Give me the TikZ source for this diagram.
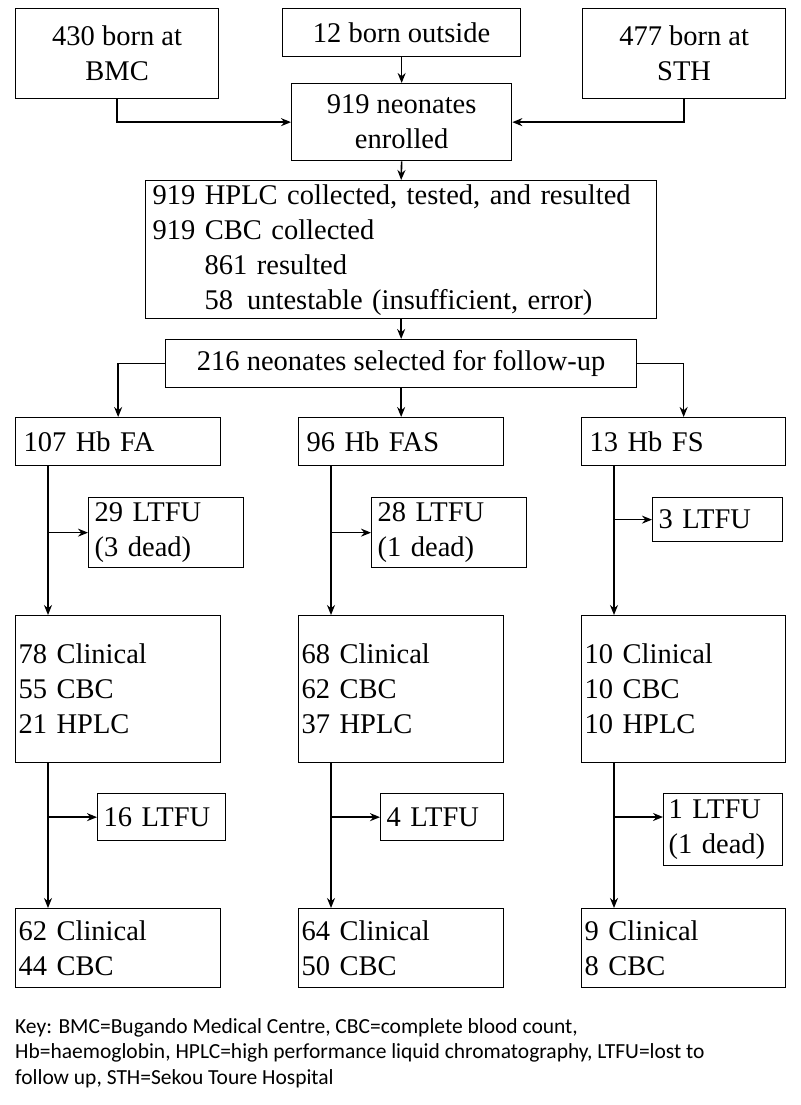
\documentclass[tikz,border=0pt]{standalone}
\usepackage{fontspec}
\setmainfont{Liberation Serif}
\newfontfamily\keyfont{Carlito}
\usetikzlibrary{arrows.meta}
\begin{document}
\begin{tikzpicture}[x=1pt,y=-1pt,
  bx/.style={draw,line width=1.3pt,anchor=north west,inner sep=0pt,font=\fontsize{28.5}{35}\selectfont},
  cb/.style={bx,align=center},
  lb/.style={bx,align=left},
  ar/.style={-{Stealth[length=10pt,width=8pt]},line width=1.6pt},
  ln/.style={line width=1.6pt}]
\useasboundingbox (0,0) rectangle (800,1105);
% top
\node[cb,minimum width=203,minimum height=90] (bmc) at (15,8) {430 born at\\BMC};
\node[cb,minimum width=238,minimum height=48] (out) at (282,8) {12 born outside};
\node[cb,minimum width=203,minimum height=90] (sth) at (582,8) {477 born at\\STH};
\node[cb,minimum width=220,minimum height=77] (enr) at (291,83) {919 neonates\\enrolled};
\node[lb,minimum width=511,minimum height=138,text width=497] (big) at (145,180) {919 HPLC collected, tested, and resulted\\919 CBC collected\\\hspace*{52pt}861 resulted\\\hspace*{52pt}58\hspace{14pt}untestable (insufficient, error)};
\node[cb,minimum width=471,minimum height=48] (sel) at (165,339) {216 neonates selected for follow-up};
% groups
\node[lb,minimum width=205,minimum height=48,text width=189] (fa) at (15,417) {107 Hb FA};
\node[lb,minimum width=205,minimum height=48,text width=189] (fas) at (298,417) {96 Hb FAS};
\node[lb,minimum width=204,minimum height=48,text width=188] (fs) at (581,417) {13 Hb FS};
\node[lb,minimum width=155,minimum height=70,text width=143] (la) at (88,497) {29 LTFU\\(3 dead)};
\node[lb,minimum width=155,minimum height=70,text width=143] (lb2) at (371,497) {28 LTFU\\(1 dead)};
\node[lb,minimum width=130,minimum height=44,text width=118] (lc) at (652,497) {3 LTFU};
\node[lb,minimum width=205,minimum height=147,text width=199] (ca) at (15,615) {78 Clinical\\55 CBC\\21 HPLC};
\node[lb,minimum width=205,minimum height=147,text width=199] (cb2) at (298,615) {68 Clinical\\62 CBC\\37 HPLC};
\node[lb,minimum width=204,minimum height=147,text width=198] (cc) at (581,615) {10 Clinical\\10 CBC\\10 HPLC};
\node[lb,minimum width=128,minimum height=47,text width=116] (ma) at (97,793) {16 LTFU};
\node[lb,minimum width=123,minimum height=47,text width=111] (mb) at (380,793) {4 LTFU};
\node[lb,minimum width=119,minimum height=72,text width=109] (mc) at (663,793) {1 LTFU\\(1 dead)};
\node[lb,minimum width=205,minimum height=79,text width=199] (fa2) at (15,908) {62 Clinical\\44 CBC};
\node[lb,minimum width=205,minimum height=79,text width=199] (fb2) at (298,908) {64 Clinical\\50 CBC};
\node[lb,minimum width=204,minimum height=79,text width=198] (fc2) at (581,908) {9 Clinical\\8 CBC};
% key
\node[anchor=north west,align=left,inner sep=0pt,font=\keyfont\fontsize{21.5}{25.5}\selectfont] (key) at (15,1018) {Key: BMC=Bugando Medical Centre, CBC=complete blood count,\\Hb=haemoglobin, HPLC=high performance liquid chromatography, LTFU=lost to\\follow up, STH=Sekou Toure Hospital};
% connectors
\draw[ar] (bmc.south) |- (enr.west);
\draw[ar] (sth.south) |- (enr.east);
\draw[ar] (out.south) -- (enr.north);
\draw[ar] (enr.south) -- (big.north);
\draw[ar] (big.south) -- (sel.north);
\draw[ar] (sel.west) -| (fa.north);
\draw[ar] (sel.east) -| (fs.north);
\draw[ar] (sel.south) -- (fas.north);
\coordinate (va) at (48,0); \coordinate (vb) at (331,0); \coordinate (vc) at (614,0);
\draw[ar] (fa.south -| va) -- (ca.north -| va);
\draw[ar] (fas.south -| vb) -- (cb2.north -| vb);
\draw[ar] (fs.south -| vc) -- (cc.north -| vc);
\draw[ar] (va |- la.west) -- (la.west);
\draw[ar] (vb |- lb2.west) -- (lb2.west);
\draw[ar] (vc |- lc.west) -- (lc.west);
\draw[ar] (ca.south -| va) -- (fa2.north -| va);
\draw[ar] (cb2.south -| vb) -- (fb2.north -| vb);
\draw[ar] (cc.south -| vc) -- (fc2.north -| vc);
\draw[ar] (va |- ma.west) -- (ma.west);
\draw[ar] (vb |- mb.west) -- (mb.west);
\coordinate (mcy) at (0,817);
\draw[ar] (vc |- mcy) -- (mc.west |- mcy);
\end{tikzpicture}
\end{document}
